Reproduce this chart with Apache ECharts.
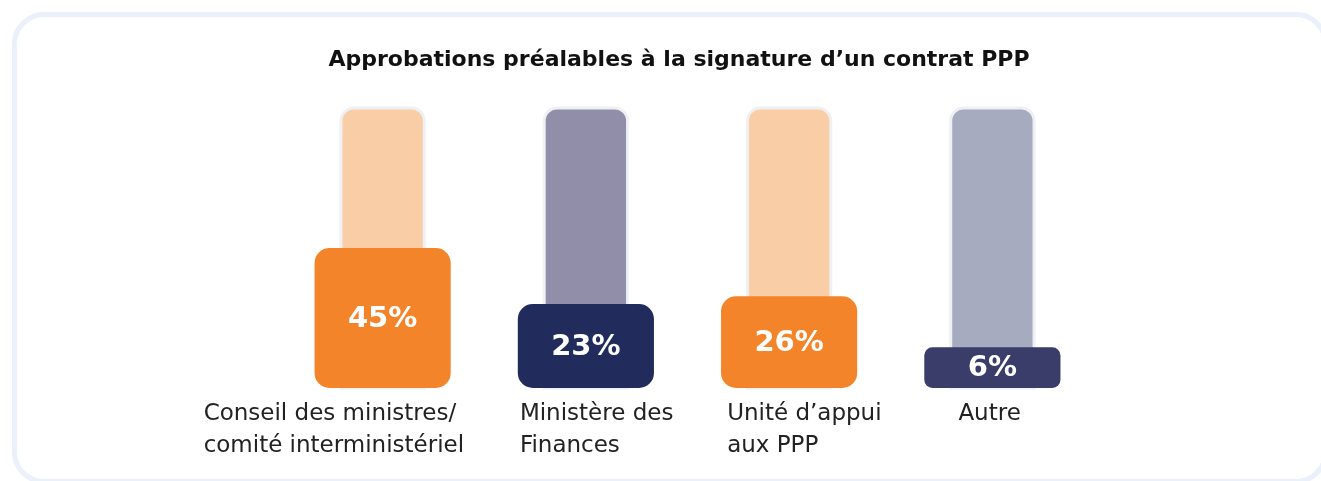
<!doctype html>
<html>
<head>
    <meta charset="utf-8">
    <title>Approbations PPP</title>
    <script src="https://cdn.jsdelivr.net/npm/echarts@6/dist/echarts.min.js"></script>
</head>
<style>
    html, body {
        margin: 0;
        width: 100%;
        height: 100%;
        background: #ffffff;
        overflow: hidden;
    }
    #card {
        position: absolute;
        left: 12px;
        top: 12px;
        width: 1306px;
        height: 462px;
        border: 5px solid #eaf1fa;
        border-radius: 32px;
    }
    #chart {
        position: absolute;
        left: 0;
        top: 0;
        width: 1321px;
        height: 481px;
    }
</style>
<body>
<div id="card"></div>
<div id="chart"></div>
<script>
  var categories = ['Conseil des ministres/\ncomité interministériel', 'Ministère des\nFinances', 'Unité d\u2019appui\naux PPP', 'Autre'];
  var shares = [45, 23, 26, 6];
  var track = [100, 100, 100, 100];

  var fillColors = ['#f4842a', '#212c5c', '#f4842a', '#3a3d6a'];
  var trackColors = ['#f9cda6', '#908ea8', '#f9cda6', '#a6abbf'];
  // width of the left-aligned text box under each column
  var labelWidths = [358, 132, 124, 68];

  var myChart = echarts.init(document.getElementById('chart'));

  function toPoints(arr) {
    return arr.map(function (v, i) { return [i, v]; });
  }

  function renderTrack(params, api) {
    var i = api.value(0);
    var top = api.coord([i, api.value(1)]);
    var cs = params.coordSys;
    var w = api.size([1, 0])[0] * 0.41;
    return {
      type: 'rect',
      shape: { x: top[0] - w / 2, y: top[1], width: w, height: cs.y + cs.height - top[1], r: [13, 13, 0, 0] },
      style: { fill: trackColors[i], stroke: '#eef0f3', lineWidth: 3 }
    };
  }

  function renderShare(params, api) {
    var i = api.value(0);
    var v = api.value(1);
    var top = api.coord([i, v]);
    var cs = params.coordSys;
    var w = api.size([1, 0])[0] * 0.67;
    var h = cs.y + cs.height - top[1];
    var r = Math.min(15, h / 5);
    return {
      type: 'group',
      children: [
        {
          type: 'rect',
          shape: { x: top[0] - w / 2, y: top[1], width: w, height: h, r: r },
          style: { fill: fillColors[i] }
        },
        {
          type: 'text',
          x: top[0],
          y: top[1] + h / 2 + 1,
          style: {
            text: v + '%',
            fill: '#ffffff',
            fontFamily: 'DejaVu Sans',
            fontWeight: 'bold',
            fontSize: 29,
            align: 'center',
            verticalAlign: 'middle'
          }
        }
      ]
    };
  }

  var rich = {};
  labelWidths.forEach(function (w, i) {
    rich['c' + i] = { width: w, align: 'left', fontSize: 23, lineHeight: 32, color: '#222222', fontFamily: 'DejaVu Sans' };
  });

  myChart.setOption({
    title: {
      text: 'Approbations préalables à la signature d\u2019un contrat PPP',
      left: 674,
      top: 44,
      textAlign: 'center',
      textStyle: {
        fontFamily: 'DejaVu Sans',
        fontWeight: 'bold',
        fontSize: 22,
        color: '#111111'
      }
    },
    grid: { left: 281, right: 227, top: 108, bottom: 93 },
    xAxis: {
      type: 'category',
      data: categories,
      axisLine: { show: false },
      axisTick: { show: false },
      axisLabel: {
        interval: 0,
        margin: 10,
        formatter: function (value, index) {
          return value.split('\n').map(function (line) {
            return '{c' + index + '|' + line + '}';
          }).join('\n');
        },
        rich: rich
      }
    },
    yAxis: {
      type: 'value',
      min: -10,
      max: 100,
      show: false
    },
    series: [
      {
        type: 'custom',
        renderItem: renderTrack,
        encode: { x: 0, y: 1 },
        data: toPoints(track),
        silent: true
      },
      {
        type: 'custom',
        renderItem: renderShare,
        encode: { x: 0, y: 1 },
        data: toPoints(shares),
        silent: true
      }
    ]
  });
</script>
</body>
</html>
